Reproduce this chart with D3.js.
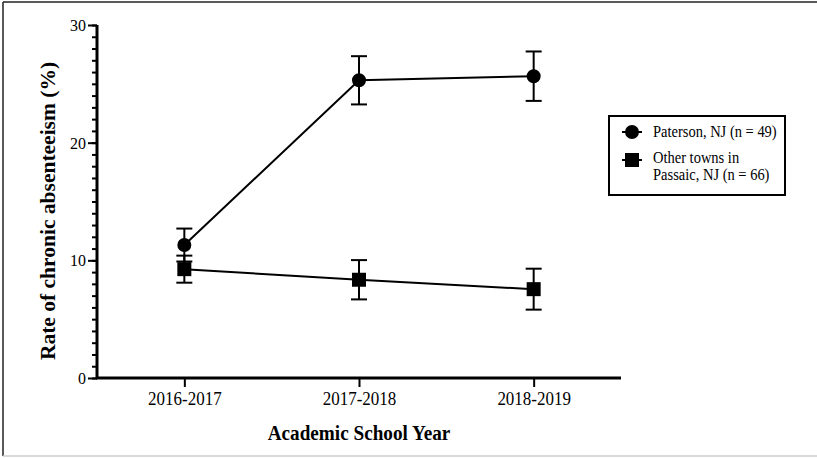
<!DOCTYPE html>
<html>
<head>
<meta charset="utf-8">
<script src="https://cdn.jsdelivr.net/npm/d3@7"></script>
<style>
  body { margin: 0; background: #fff; }
  svg text { font-family: "Liberation Serif", "Times New Roman", serif; fill: #000; }
</style>
</head>
<body>
<div id="chart"></div>
<script>
// data
const years = ["2016-2017", "2017-2018", "2018-2019"];
const patersonMean = [11.3, 25.3, 25.65];
const patersonErr = [1.4, 2.05, 2.1];
const otherMean = [9.25, 8.35, 7.55];
const otherErr = [1.15, 1.67, 1.74];
const yTicks = [0, 10, 20, 30];
const seriesNames = ["Paterson, NJ (n = 49)", ["Other towns in", "Passaic, NJ (n = 66)"]];

const W = 817, H = 458;
const STRETCH = 1.1; // text in the figure is a bit taller than normal

const svg = d3.select("#chart").append("svg")
    .attr("width", W)
    .attr("height", H);

// page frame
svg.append("line").attr("x1", 3).attr("x2", W).attr("y1", 2).attr("y2", 2)
    .attr("stroke", "#222").attr("stroke-width", 1.5);
svg.append("line").attr("x1", 3).attr("x2", 3).attr("y1", 2).attr("y2", H - 2)
    .attr("stroke", "#222").attr("stroke-width", 1.5);
svg.append("line").attr("x1", 3).attr("x2", W).attr("y1", H - 2).attr("y2", H - 2)
    .attr("stroke", "#ccc").attr("stroke-width", 1.5);

const x = d3.scalePoint()
    .domain(years)
    .range([97, 621])
    .padding(0.5);

const y = d3.scaleLinear()
    .domain([0, 30])
    .range([378, 25]);

// Y axis (minor ticks every 1, major every 10)
const yAxisG = svg.append("g").attr("transform", "translate(97,0)");
yAxisG.call(d3.axisLeft(y).tickValues(d3.range(0, 31, 1)).tickSize(5).tickFormat(""))
yAxisG.selectAll(".tick line").attr("stroke-width", 2);
yAxisG.select(".domain").remove();
const yMajor = svg.append("g").attr("transform", "translate(97,0)");
yMajor.call(d3.axisLeft(y).tickValues(yTicks).tickSize(9).tickPadding(2));
yMajor.selectAll(".tick line").attr("stroke-width", 2);
yMajor.selectAll(".tick text")
    .style("font-size", "16px")
    .attr("transform", `scale(1,${STRETCH})`);
yMajor.select(".domain").attr("stroke-width", 3).attr("d", `M0,${y(0)}V${y(30)}`);

// X axis
const xAxisG = svg.append("g").attr("transform", "translate(0,378)");
xAxisG.call(d3.axisBottom(x).tickSize(9).tickPadding(4));
xAxisG.select(".domain").attr("stroke-width", 3).attr("d", "M96,0H621");
xAxisG.selectAll(".tick line").attr("stroke-width", 2);
xAxisG.selectAll(".tick text")
    .style("font-size", "17px")
    .attr("transform", "scale(1,1.06)");

// axis titles
svg.append("text")
    .attr("transform", `translate(359,440) scale(1,${STRETCH + 0.04})`)
    .attr("text-anchor", "middle")
    .style("font-size", "19.2px").style("font-weight", "bold")
    .text("Academic School Year");

svg.append("text")
    .attr("transform", "translate(55,211) rotate(-90)")
    .attr("text-anchor", "middle")
    .style("font-size", "21.5px").style("font-weight", "bold")
    .text("Rate of chronic absenteeism (%)");

function drawSeries(means, errs, shape) {
    const pts = years.map((yr, i) => ({ yr: yr, m: means[i], e: errs[i] }));
    const g = svg.append("g");
    g.append("path")
        .datum(pts)
        .attr("fill", "none")
        .attr("stroke", "#000")
        .attr("stroke-width", 2)
        .attr("d", d3.line().x(d => x(d.yr)).y(d => y(d.m)));
    const eb = g.selectAll(".eb").data(pts).enter().append("g")
        .attr("stroke", "#000").attr("stroke-width", 2);
    eb.append("line")
        .attr("x1", d => x(d.yr)).attr("x2", d => x(d.yr))
        .attr("y1", d => y(d.m + d.e)).attr("y2", d => y(d.m - d.e));
    eb.append("line")
        .attr("x1", d => x(d.yr) - 8).attr("x2", d => x(d.yr) + 8)
        .attr("y1", d => y(d.m + d.e)).attr("y2", d => y(d.m + d.e));
    eb.append("line")
        .attr("x1", d => x(d.yr) - 8).attr("x2", d => x(d.yr) + 8)
        .attr("y1", d => y(d.m - d.e)).attr("y2", d => y(d.m - d.e));
    g.selectAll(".mk").data(pts).enter().append("path")
        .attr("transform", d => `translate(${x(d.yr)},${y(d.m)})`)
        .attr("d", d3.symbol().type(shape).size(shape === d3.symbolCircle ? 154 : 196))
        .attr("fill", "#000");
}

drawSeries(otherMean, otherErr, d3.symbolSquare);
drawSeries(patersonMean, patersonErr, d3.symbolCircle);

// legend
const lg = svg.append("g");
lg.append("rect")
    .attr("x", 609).attr("y", 116).attr("width", 176).attr("height", 79)
    .attr("fill", "#fff").attr("stroke", "#000").attr("stroke-width", 2);
const legendRows = [
    { shape: d3.symbolCircle, size: 154, cy: 132, base: 137, lines: [seriesNames[0]] },
    { shape: d3.symbolSquare, size: 196, cy: 160, base: 162.5, lines: seriesNames[1] }
];
legendRows.forEach(r => {
    lg.append("line").attr("x1", 622).attr("x2", 642).attr("y1", r.cy).attr("y2", r.cy)
        .attr("stroke", "#000").attr("stroke-width", 2);
    lg.append("path").attr("transform", `translate(632,${r.cy})`)
        .attr("d", d3.symbol().type(r.shape).size(r.size)).attr("fill", "#000");
    r.lines.forEach((t, i) => {
        lg.append("text")
            .attr("transform", `translate(653,${r.base + i * 17}) scale(1,${STRETCH})`)
            .style("font-size", "14.5px").text(t);
    });
});
</script>
</body>
</html>
